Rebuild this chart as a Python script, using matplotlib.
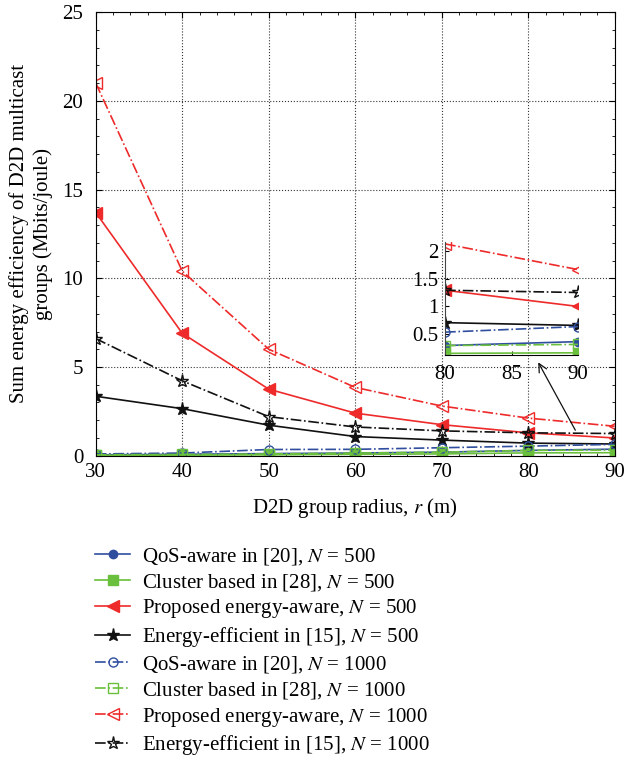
import matplotlib
matplotlib.use("Agg")
import matplotlib.pyplot as plt
from matplotlib.ticker import AutoMinorLocator

plt.rcParams['font.family'] = ['Liberation Serif', 'DejaVu Serif']
plt.rcParams['mathtext.fontset'] = 'stix'
plt.rcParams['font.size'] = 15

# data
r = [30, 40, 50, 60, 70, 80, 90]
qos_500 = [0.05, 0.08, 0.12, 0.15, 0.2, 0.3, 0.37]
cluster_500 = [0.02, 0.03, 0.05, 0.08, 0.1, 0.16, 0.17]
proposed_500 = [13.7, 6.9, 3.75, 2.4, 1.75, 1.29, 1.0]
ee_500 = [3.35, 2.65, 1.72, 1.08, 0.88, 0.71, 0.66]
qos_1000 = [0.1, 0.15, 0.35, 0.36, 0.45, 0.54, 0.64]
cluster_1000 = [0.05, 0.07, 0.1, 0.15, 0.2, 0.3, 0.32]
proposed_1000 = [21.0, 10.4, 6.0, 3.85, 2.8, 2.12, 1.66]
ee_1000 = [6.6, 4.22, 2.2, 1.62, 1.4, 1.29, 1.25]

labels = ['QoS-aware in [20], $N$ = 500',
          'Cluster based in [28], $N$ = 500',
          'Proposed energy-aware, $N$ = 500',
          'Energy-efficient in [15], $N$ = 500',
          'QoS-aware in [20], $N$ = 1000',
          'Cluster based in [28], $N$ = 1000',
          'Proposed energy-aware, $N$ = 1000',
          'Energy-efficient in [15], $N$ = 1000']

blue = '#2f4e9e'
green = '#6abf3c'
red = '#ee2a2a'
black = '#111111'

series = [qos_500, cluster_500, proposed_500, ee_500,
          qos_1000, cluster_1000, proposed_1000, ee_1000]
styles = [dict(color=blue, marker='o', ms=6, ls='-', mfc=blue),
          dict(color=green, marker='s', ms=7, ls='-', mfc=green),
          dict(color=red, marker='<', ms=8.5, ls='-', mfc=red),
          dict(color=black, marker='*', ms=9.5, ls='-', mfc=black),
          dict(color=blue, marker='o', ms=6.5, ls='-.', mfc='none'),
          dict(color=green, marker='s', ms=7, ls='-.', mfc='none'),
          dict(color=red, marker='<', ms=8.5, ls='-.', mfc='none'),
          dict(color=black, marker='*', ms=9.5, ls='-.', mfc='none')]

fig = plt.figure(figsize=(6.26, 7.57), dpi=100)
ax = fig.add_axes([0.153, 0.398, 0.829, 0.586])

handles = []
for y, st, lab in zip(series, styles, labels):
    h, = ax.plot(r, y, lw=1.2, mew=1.0, label=lab, **st)
    handles.append(h)

ax.set_xlim(30, 90)
ax.set_ylim(0, 25)
ax.set_xticks(r)
ax.set_yticks([0, 5, 10, 15, 20, 25])
ax.xaxis.set_minor_locator(AutoMinorLocator(5))
ax.yaxis.set_minor_locator(AutoMinorLocator(5))
ax.tick_params(which='both', direction='in', top=True, right=True)
ax.tick_params(which='major', length=4)
ax.tick_params(which='minor', length=2)
ax.tick_params(axis='y', pad=9)
ax.tick_params(axis='x', pad=5)
ax.grid(True, which='major', ls=':', color='#333333', lw=0.8)
ax.set_xlabel('D2D group radius, $r$ (m)', labelpad=10)
ax.set_ylabel('Sum energy efficiency of D2D multicast\ngroups (Mbits/joule)',
              labelpad=7, linespacing=1.3)

# zoomed inset for r = 80..90
ins = fig.add_axes([0.711, 0.531, 0.2125, 0.149])
ins.patch.set_alpha(0)
for y, st in zip(series, styles):
    ins.plot(r[-2:], y[-2:], lw=1.2, mew=1.0, **st)
ins.set_xlim(80, 90)
ins.set_ylim(0.13, 2.15)
ins.set_xticks([80, 85, 90])
ins.set_yticks([0.5, 1, 1.5, 2])
ins.set_yticklabels(['0.5', '1', '1.5', '2'])
ins.spines['top'].set_visible(False)
ins.spines['right'].set_visible(False)
ins.spines['left'].set_color('#444444')
ins.tick_params(direction='in', length=3, labelsize=15)
ins.tick_params(axis='x', pad=7)
ins.tick_params(axis='y', pad=5)

ax.annotate('', xy=(81.0, 5.4), xytext=(85.6, 1.3),
            arrowprops=dict(arrowstyle='->', color=black, lw=0.9))

fig.legend(handles=handles, loc='upper left', bbox_to_anchor=(0.1385, 0.29),
           frameon=False, handlelength=1.7, handletextpad=0.55,
           labelspacing=0.23, borderaxespad=0)

fig.savefig('out.png', dpi=100)
